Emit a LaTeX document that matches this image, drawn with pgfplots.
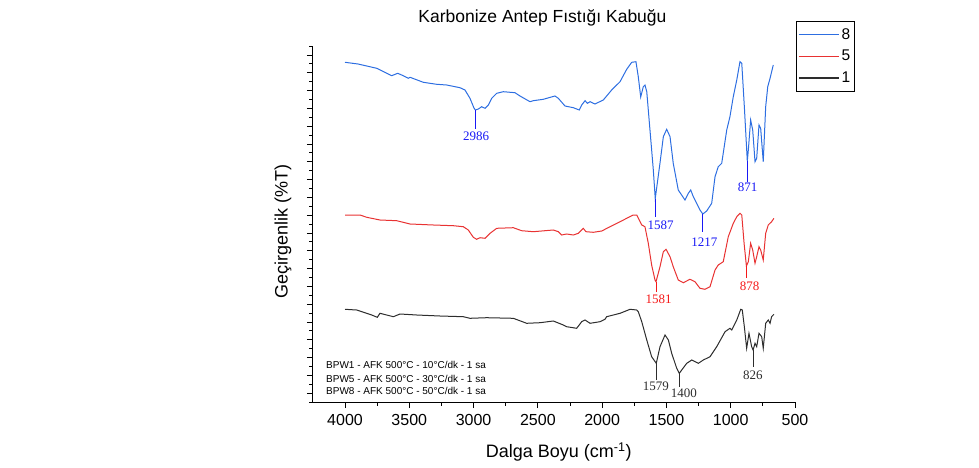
\documentclass[border=0pt]{standalone}
\usepackage{pgfplots}
\pgfplotsset{compat=1.18}
\usepackage{fontspec}
\setmainfont{Liberation Sans}
\newfontfamily\tnr{Liberation Serif}
\definecolor{cblue}{RGB}{45,110,225}
\definecolor{cred}{RGB}{232,50,50}
\definecolor{cblack}{RGB}{45,45,45}
\definecolor{ablue}{RGB}{25,25,245}
\definecolor{ared}{RGB}{245,25,25}
\begin{document}
\begin{tikzpicture}[x=1pt,y=1pt]
\useasboundingbox (0,0) rectangle (979,467);
\begin{axis}[
 at={(313pt,65pt)}, anchor=south west,
 scale only axis, width=482pt, height=356pt,
 x dir=reverse, xmin=500, xmax=4249, ymin=0, ymax=356,
 axis x line*=bottom, axis y line*=left,
 tick pos=left, tick align=outside,
 xtick={500,1000,...,4000}, minor xtick={750,1250,...,4250},
 ytick={8.9,26.7,...,347.1}, minor ytick={0,17.8,...,356}, yticklabels={},
 major tick length=6pt, minor tick length=3.5pt,
 every tick/.style={black, line width=0.8pt},
 axis line style={black, line width=1pt},
 /pgf/number format/assume math mode=true,
 /pgf/number format/1000 sep={},
 xticklabel style={font=\fontsize{16}{19}\selectfont, yshift=-3pt},
 xlabel={Dalga Boyu (cm\textsuperscript{-1})},
 ylabel={Geçirgenlik (\%T)},
 every axis x label/.style={at={(axis description cs:0.51,-0.14)}, anchor=center, font=\fontsize{18}{21}\selectfont},
 every axis y label/.style={at={(axis description cs:-0.062,0.48)}, rotate=90, anchor=center, font=\fontsize{18}{21}\selectfont},
 legend style={at={(axis description cs:1.002,1.07)}, anchor=north west, draw=black, line width=0.8pt, font=\fontsize{15.5}{18}\selectfont, inner xsep=2pt, inner ysep=5pt, row sep=5.5pt},
 legend cell align=left,
 legend image code/.code={\draw[#1, line width=1.2pt] (0pt,0pt) -- (40pt,0pt);},
 clip=false,
]
\addplot[cblue, line width=1pt] coordinates {
(4000,339.7)(3899,338)(3753,333.7)(3637,326.3)(3590,328.7)(3547,326.3)(3508,323.7)(3494,324.7)
(3391,319.7)(3287,317.7)(3209,317)(3106,314.3)(3067,312)(3028,303.7)(2997,294)(2986,292)
(2963,293)(2937,295.3)(2911,293.7)(2885,297)(2859,303.7)(2820,308.7)(2769,310.3)(2678,309.3)
(2639,306)(2561,300.3)(2536,301.3)(2458,302.7)(2367,306)(2341,303.7)(2289,296)(2224,294.3)
(2178,292)(2159,297)(2133,301.3)(2115,298.7)(2094,300.3)(2056,298)(1991,302)(1926,312)
(1861,320.3)(1809,332.7)(1770,339.7)(1737,340.3)(1719,325.3)(1700,305)(1680,315.3)(1667,317)
(1653,310.3)(1628,272)(1602,232)(1587,203.5)(1550,239)(1524,265.3)(1498,272.7)(1472,265.3)
(1447,238.7)(1408,212)(1356,202)(1330,208.7)(1311,212)(1291,205.3)(1239,192)(1217,188)
(1187,191)(1148,198.7)(1122,225.3)(1097,235.3)(1070,238.7)(1031,272)(1006,285.3)(980,305.3)
(953,322)(928,340.3)(914,338.7)(894,295.3)(871,241)(863,252)(845,282)(829,272)
(811,240.3)(798,243.7)(780,277)(767,273.7)(747,240.3)(728,295.3)(712,315.3)(694,323.7)(669,337)
};
\addlegendentry{8}
\addplot[cred, line width=1pt] coordinates {
(4000,187)(3883,187)(3831,184.7)(3728,182)(3598,181.3)(3494,178)(3313,177)(3158,176.3)
(3080,175.3)(3041,172)(3002,164.7)(2976,162.7)(2950,164.3)(2911,163.7)(2872,168.7)(2820,173.7)
(2691,174.3)(2626,171.3)(2536,170.3)(2380,172)(2341,170.3)(2315,167)(2276,168)(2224,167)
(2185,168.7)(2147,173.7)(2126,170.3)(2069,169.7)(2003,171)(1939,175.3)(1861,180.3)(1758,187)
(1731,187)(1692,177)(1667,175.3)(1641,158.7)(1615,137)(1589,122)(1581,120.3)(1550,135.3)
(1524,150.3)(1503,152.7)(1472,145.3)(1447,135.3)(1408,122)(1369,119.3)(1317,122.7)(1278,120.3)
(1239,113.7)(1200,112.7)(1161,115.3)(1122,132)(1097,137)(1058,140.3)(1019,165.3)(980,178.7)
(953,185.3)(928,188.7)(914,187)(896,158.7)(878,136)(863,140.3)(845,158.7)(829,152)
(811,138.7)(798,145.3)(780,155.3)(767,152)(747,142)(728,168.7)(708,177)(682,180.3)(664,183.7)
};
\addlegendentry{5}
\addplot[cblack, line width=1pt] coordinates {
(4000,92.7)(3909,92)(3831,88.7)(3792,87)(3749,84.7)(3728,88.7)(3676,87)(3624,85.3)
(3572,88)(3442,87)(3261,86)(3080,85.3)(3028,83.7)(2898,84.3)(2691,83.7)(2587,78.7)
(2483,79.3)(2380,81)(2302,77)(2276,75.3)(2198,73.7)(2159,80.3)(2133,82)(2094,78.7)
(2017,80.3)(1978,82.7)(1965,85.3)(1861,88.7)(1783,92.7)(1731,92)(1719,90.3)(1692,80.3)
(1653,62)(1615,45.3)(1579,38.7)(1550,55.3)(1511,67)(1485,62)(1459,48.7)(1420,33.7)
(1400,28.7)(1381,32)(1342,38.7)(1303,42)(1252,38.7)(1213,42)(1161,45.3)(1109,55.3)
(1044,70.3)(1006,73.7)(992,72)(953,82)(922,92.7)(910,92)(894,75.3)(876,53.7)
(858,68.7)(837,55.3)(826,52)(811,58.7)(798,55.3)(780,68.7)(759,65.3)(747,53.7)
(728,78.7)(708,82)(694,78.7)(682,85.3)(664,87.7)
};
\addlegendentry{1}
% peak markers
\draw[ablue, line width=0.9pt] (axis cs:2986,292) -- (axis cs:2986,272.7);
\draw[ablue, line width=0.9pt] (axis cs:1587,203.5) -- (axis cs:1587,185.3);
\draw[ablue, line width=0.9pt] (axis cs:1217,188) -- (axis cs:1217,170.3);
\draw[ablue, line width=0.9pt] (axis cs:871,241) -- (axis cs:871,220.3);
\draw[ared, line width=0.9pt] (axis cs:1581,120.3) -- (axis cs:1581,110.3);
\draw[ared, line width=0.9pt] (axis cs:878,136) -- (axis cs:878,123.7);
\draw[cblack, line width=0.9pt] (axis cs:1579,38.7) -- (axis cs:1579,22);
\draw[cblack, line width=0.9pt] (axis cs:1400,28.7) -- (axis cs:1400,15.3);
\draw[cblack, line width=0.9pt] (axis cs:826,52) -- (axis cs:826,35.3);
\begin{scope}[every node/.style={inner sep=0pt, font=\tnr\fontsize{13}{15}\selectfont}]
\node[ablue] at (axis cs:2981,266.2) {2986};
\node[ablue] at (axis cs:1546,177) {1587};
\node[ablue] at (axis cs:1204,159.5) {1217};
\node[ablue] at (axis cs:869,214.5) {871};
\node[ared] at (axis cs:1560,102.5) {1581};
\node[ared] at (axis cs:852,116.2) {878};
\node[cblack] at (axis cs:1583,15.8) {1579};
\node[cblack] at (axis cs:1365,9.2) {1400};
\node[cblack] at (axis cs:827,26.7) {826};
\end{scope}
\begin{scope}[every node/.style={inner sep=0pt, anchor=west, font=\fontsize{10}{12}\selectfont}]
\node at (axis cs:4148,37) {BPW1 - AFK 500°C - 10°C/dk - 1 sa};
\node at (axis cs:4148,23.5) {BPW5 - AFK 500°C - 30°C/dk - 1 sa};
\node at (axis cs:4148,11) {BPW8 - AFK 500°C - 50°C/dk - 1 sa};
\end{scope}
\node[font=\fontsize{17.5}{20}\selectfont] at (axis description cs:0.476,1.079) {Karbonize Antep Fıstığı Kabuğu};
\end{axis}
\end{tikzpicture}
\end{document}
